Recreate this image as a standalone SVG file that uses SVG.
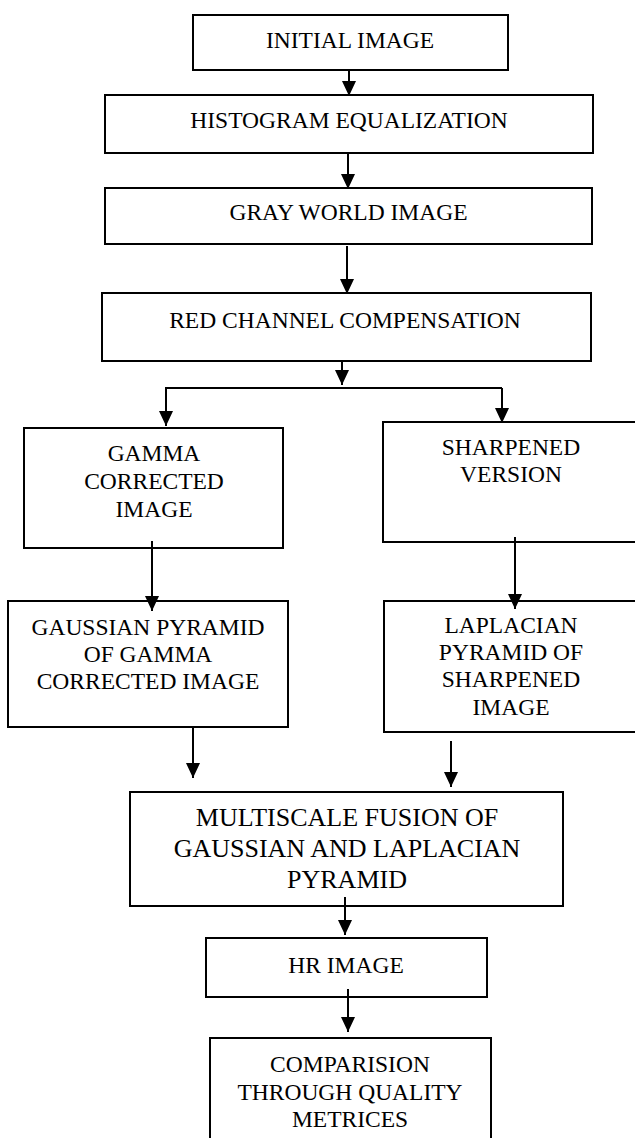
<svg xmlns="http://www.w3.org/2000/svg" width="635" height="1138" viewBox="0 0 635 1138">
<style>
.box{fill:#fff;stroke:#000;stroke-width:2}
.t{font-family:"Liberation Serif","Times New Roman",serif;font-size:23.5px;fill:#000;text-anchor:middle}
.big{font-size:26px}
.c{fill:none;stroke:#000;stroke-width:2}
</style>
<defs>
<marker id="ah" markerUnits="userSpaceOnUse" markerWidth="16" markerHeight="16" refX="15" refY="7" orient="auto">
<path d="M0,0 L15,7 L0,14 z" fill="#000"/>
</marker>
</defs>
<rect width="635" height="1138" fill="#fff"/>
<g id="n-initial"><rect class="box" x="193" y="15" width="315" height="55"/><text class="t" x="350" y="48">INITIAL IMAGE</text></g>
<g id="n-histogram"><rect class="box" x="105" y="95" width="488" height="58"/><text class="t" x="349" y="128">HISTOGRAM EQUALIZATION</text></g>
<g id="n-gray"><rect class="box" x="105" y="188" width="487" height="56"/><text class="t" x="348.5" y="220">GRAY WORLD IMAGE</text></g>
<g id="n-red"><rect class="box" x="102" y="293" width="489" height="68"/><text class="t" x="345" y="328">RED CHANNEL COMPENSATION</text></g>
<g id="n-gamma"><rect class="box" x="24" y="428" width="259" height="120"/><text class="t" x="154" y="461">GAMMA</text><text class="t" x="154" y="489">CORRECTED</text><text class="t" x="154" y="517">IMAGE</text></g>
<g id="n-sharp"><rect class="box" x="383" y="422" width="260" height="120"/><text class="t" x="511" y="455">SHARPENED</text><text class="t" x="511" y="482">VERSION</text></g>
<g id="n-gauss"><rect class="box" x="8" y="601" width="280" height="126"/><text class="t" x="148" y="635">GAUSSIAN PYRAMID</text><text class="t" x="148" y="662">OF GAMMA</text><text class="t" x="148" y="689">CORRECTED IMAGE</text></g>
<g id="n-lap"><rect class="box" x="384" y="601" width="260" height="131"/><text class="t" x="511" y="633">LAPLACIAN</text><text class="t" x="511" y="660">PYRAMID OF</text><text class="t" x="511" y="687">SHARPENED</text><text class="t" x="511" y="715">IMAGE</text></g>
<g id="n-multi"><rect class="box" x="130" y="792" width="433" height="114"/><text class="t big" x="347" y="826">MULTISCALE FUSION OF</text><text class="t big" x="347" y="857">GAUSSIAN AND LAPLACIAN</text><text class="t big" x="347" y="888">PYRAMID</text></g>
<g id="n-hr"><rect class="box" x="206" y="938" width="281" height="59"/><text class="t" x="346" y="973">HR IMAGE</text></g>
<g id="n-comp"><rect class="box" x="210" y="1038" width="281" height="104"/><text class="t" x="350" y="1072">COMPARISION</text><text class="t" x="350" y="1100">THROUGH QUALITY</text><text class="t" x="350" y="1127">METRICES</text></g>
<g id="connectors">
<line class="c" x1="349" y1="70" x2="349" y2="96" marker-end="url(#ah)"/>
<line class="c" x1="348" y1="153" x2="348" y2="189" marker-end="url(#ah)"/>
<line class="c" x1="347" y1="246" x2="347" y2="294" marker-end="url(#ah)"/>
<line class="c" x1="342" y1="361" x2="342" y2="385" marker-end="url(#ah)"/>
<polyline class="c" points="166,388 502,388"/>
<line class="c" x1="166" y1="387" x2="166" y2="426" marker-end="url(#ah)"/>
<line class="c" x1="502" y1="388" x2="502" y2="423" marker-end="url(#ah)"/>
<line class="c" x1="152" y1="541" x2="152" y2="611" marker-end="url(#ah)"/>
<line class="c" x1="515" y1="537" x2="515" y2="609" marker-end="url(#ah)"/>
<line class="c" x1="193" y1="727" x2="193" y2="778" marker-end="url(#ah)"/>
<line class="c" x1="451" y1="741" x2="451" y2="787" marker-end="url(#ah)"/>
<line class="c" x1="345" y1="897" x2="345" y2="935" marker-end="url(#ah)"/>
<line class="c" x1="348" y1="989" x2="348" y2="1032" marker-end="url(#ah)"/>
</g>
</svg>
